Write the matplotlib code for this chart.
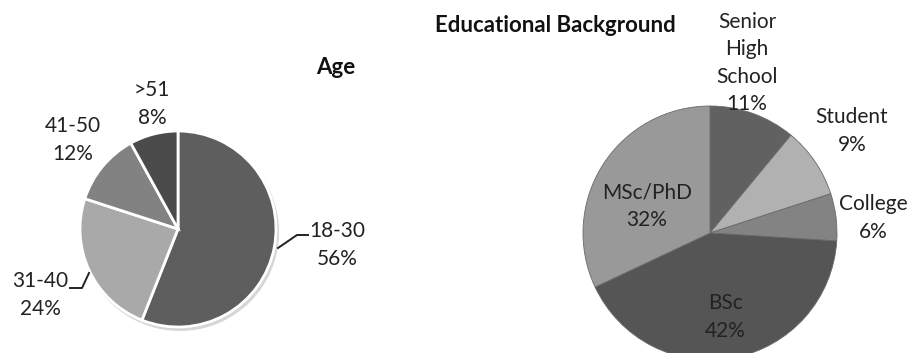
import matplotlib.pyplot as plt
from matplotlib.patches import Circle

age_labels = ["18-30", "31-40", "41-50", ">51"]
age_values = [56, 24, 12, 8]
age_colors = ["#5e5e5e", "#a9a9a9", "#828282", "#4b4b4b"]

edu_labels = ["Senior\nHigh\nSchool", "Student", "College", "BSc", "MSc/PhD"]
edu_values = [11, 9, 6, 42, 32]
edu_colors = ["#616161", "#b1b1b1", "#838383", "#555555", "#999999"]

plt.rcParams["font.family"] = ["Lato", "DejaVu Sans"]

W, H = 917, 353
fig = plt.figure(figsize=(W / 100, H / 100), dpi=100)
ax = fig.add_axes([0, 0, 1, 1])

# soft shadow under the age pie
ax.add_patch(Circle((180, H - 232), 99, color="#d6d6d6", zorder=0, lw=0))

# age pie (pixel coordinates, y up)
ax.pie(age_values, colors=age_colors, startangle=90, counterclock=False,
       center=(178, H - 229), radius=98,
       wedgeprops=dict(edgecolor="white", linewidth=2))

ax.pie(edu_values, colors=edu_colors, startangle=90, counterclock=False,
       center=(710, H - 233), radius=127,
       wedgeprops=dict(edgecolor="#6a6a6a", linewidth=0.6))

ax.set_xlim(0, W)
ax.set_ylim(0, H)
ax.set_aspect("equal")
ax.axis("off")

txt = dict(fontsize=15, ha="center", va="center", color="#222222", linespacing=1.45)

# age labels
age_pos = [(337, 245), (40, 295), (73, 140), (152, 104)]
for lab, v, (x, y) in zip(age_labels, age_values, age_pos):
    ax.text(x, H - y, f"{lab}\n{v}%", **txt)
ax.plot([278, 297, 308], [H - 248, H - 235, H - 235], color="#222222", lw=1.4)
ax.plot([89, 82, 70], [H - 273, H - 288, H - 288], color="#222222", lw=1.4)

# education labels
edu_pos = [(747, 63), (852, 131), (873, 218), (725, 317), (647, 206)]
for lab, v, (x, y) in zip(edu_labels, edu_values, edu_pos):
    ax.text(x, H - y, f"{lab}\n{v}%", **txt)

ax.text(336, H - 68, "Age", fontsize=16, fontweight="bold", ha="center",
        va="center", color="#111111")
ax.text(435, H - 25, "Educational Background", fontsize=16,
        fontweight="bold", ha="left", va="center", color="#111111")

fig.savefig("out.png", dpi=100)
